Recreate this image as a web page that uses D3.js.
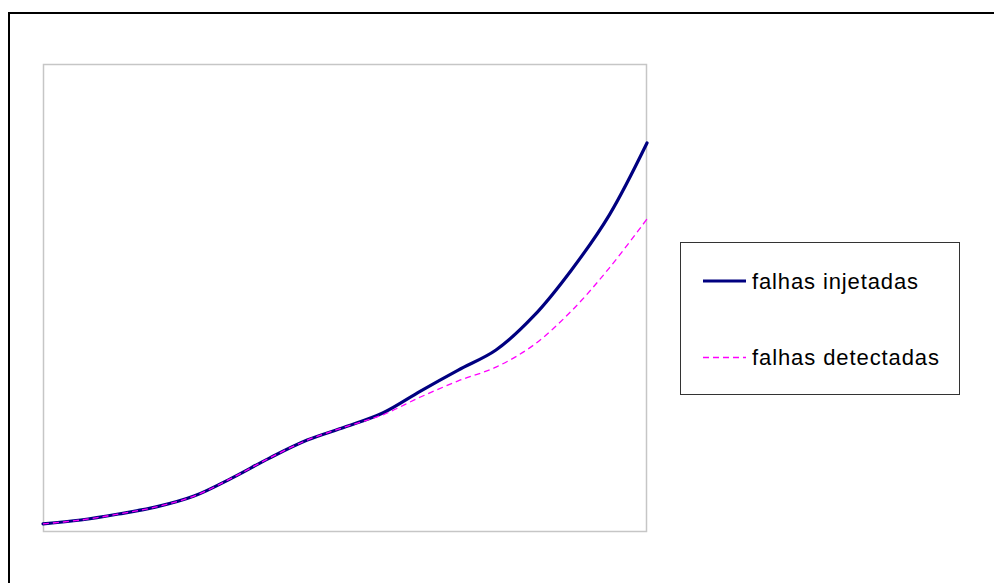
<!DOCTYPE html>
<html>
<head>
<meta charset="utf-8">
<script src="https://cdn.jsdelivr.net/npm/d3@7"></script>
<style>
  html, body { margin: 0; padding: 0; background: #fff; }
  svg { display: block; }
</style>
</head>
<body>
<svg id="chart" width="994" height="583"></svg>
<script>
// Measurement points along the run
const categories = [1, 2, 3, 4, 5, 6, 7, 8, 9, 10, 11, 12, 13, 14, 15, 16, 17];
// Faults injected (cumulative)
const injected = [4.3, 6.4, 9.6, 13.4, 19.2, 28.8, 39.5, 49.1, 56.1, 63.6, 75.3, 86.5, 97.2, 115.4, 140, 169.3, 207.8];
// Faults detected (cumulative)
const detected = [4.3, 6.4, 9.6, 13.4, 19.2, 28.8, 39.5, 49.1, 56.1, 62.6, 72.1, 80.7, 88.1, 99.9, 118.1, 141, 167.2];
const seriesNames = ["falhas injetadas", "falhas detectadas"];
const yDomain = [0, 250];

const svg = d3.select("#chart");

// Outer frame (extends past the canvas on the right and bottom)
svg.append("rect")
  .attr("x", 9).attr("y", 13)
  .attr("width", 1000).attr("height", 600)
  .attr("fill", "none")
  .attr("stroke", "#000")
  .attr("stroke-width", 2);

const plot = { left: 43.5, top: 64.5, right: 646.5, bottom: 531.5 };

// Plot area border
svg.append("rect")
  .attr("x", plot.left).attr("y", plot.top)
  .attr("width", plot.right - plot.left).attr("height", plot.bottom - plot.top)
  .attr("fill", "#fff")
  .attr("stroke", "#c6c6c6")
  .attr("stroke-width", 1.5);

const x = d3.scalePoint().domain(categories).range([43, 647]);
const y = d3.scaleLinear().domain(yDomain).range([532, 64]);

const line = d3.line()
  .x((d, i) => x(categories[i]))
  .y(d => y(d))
  .curve(d3.curveCatmullRom.alpha(0.5));

svg.append("path")
  .datum(injected)
  .attr("d", line)
  .attr("fill", "none")
  .attr("stroke", "#000080")
  .attr("stroke-width", 3.2)
  .attr("stroke-linecap", "round")
  .attr("stroke-linejoin", "round");

svg.append("path")
  .datum(detected)
  .attr("d", line)
  .attr("fill", "none")
  .attr("stroke", "#ff00ff")
  .attr("stroke-width", 1.3)
  .attr("stroke-dasharray", "6,4");

// Legend
const legend = svg.append("g");
legend.append("rect")
  .attr("x", 680.5).attr("y", 242.5)
  .attr("width", 279).attr("height", 152)
  .attr("fill", "#fff")
  .attr("stroke", "#333")
  .attr("stroke-width", 1);

const legendItems = [
  { name: seriesNames[0], color: "#000080", width: 3.2, dash: null, y: 281, textLen: 166 },
  { name: seriesNames[1], color: "#ff00ff", width: 1.3, dash: "6,4", y: 357.5, textLen: 187 }
];

legendItems.forEach(it => {
  legend.append("line")
    .attr("x1", 703).attr("x2", 746)
    .attr("y1", it.y).attr("y2", it.y)
    .attr("stroke", it.color)
    .attr("stroke-width", it.width)
    .attr("stroke-dasharray", it.dash);
  legend.append("text")
    .attr("x", 752).attr("y", it.y + 7.5)
    .attr("font-family", "Liberation Sans, Arial, sans-serif")
    .attr("font-size", 22)
    .attr("fill", "#000")
    .attr("textLength", it.textLen)
    .attr("lengthAdjust", "spacing")
    .text(it.name);
});
</script>
</body>
</html>
